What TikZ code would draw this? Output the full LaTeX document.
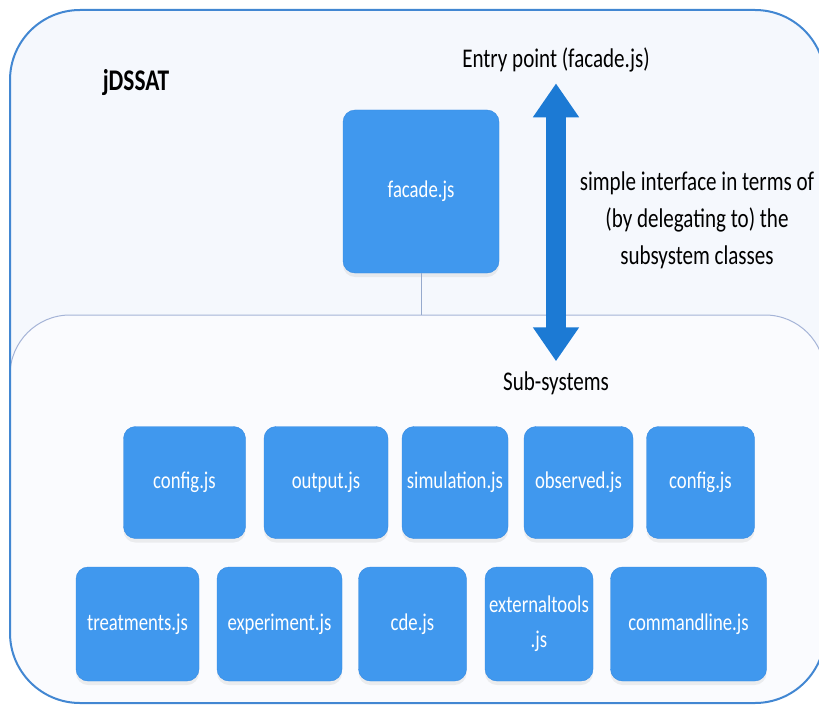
\documentclass[tikz,border=0pt]{standalone}
\usepackage{fontspec}
\setmainfont{Carlito}[FakeStretch=0.78]
\usetikzlibrary{arrows.meta,shadows}

\definecolor{boxfill}{RGB}{64,152,238}
\definecolor{boxline}{RGB}{52,138,226}
\definecolor{arrowblue}{RGB}{28,122,212}
\definecolor{framefill}{RGB}{245,248,253}
\definecolor{frameline}{RGB}{66,135,210}
\definecolor{subfill}{RGB}{250,251,254}
\definecolor{subline}{RGB}{165,180,215}
\definecolor{linkgray}{RGB}{150,170,205}

\newcommand\headfont{\fontsize{27}{37}\selectfont}
\newcommand\titlefont{\fontsize{30}{36}\selectfont\bfseries}
\newcommand\labelfont{\fontsize{24}{35}\selectfont}

\tikzset{
	jsbox/.style={draw=boxline, fill=boxfill, rounded corners=12pt, text=white,
		font=\labelfont, align=center, minimum height=112pt, inner sep=0pt,
		drop shadow={opacity=0.12, shadow xshift=0pt, shadow yshift=-4pt}},
	heading/.style={font=\headfont, inner sep=0pt, align=center},
	bigarrow/.style={draw=arrowblue, line width=20pt,
		{Triangle[width=44pt,length=34pt]}-{Triangle[width=44pt,length=34pt]}}
}

\begin{document}
\begin{tikzpicture}[x=1pt,y=-1pt]
	\useasboundingbox (0,0) rectangle (819,706);
	
	% outer frame and sub-system area
	\fill[framefill,rounded corners=70pt] (10,10) rectangle (825,703);
	\fill[subfill] (10,500) [rounded corners=60pt] -- (10,315) -- (825,315) -- (825,500)
		[rounded corners=70pt] -- (825,703) -- (10,703) -- cycle;
	\draw[subline,line width=1pt] (10,500) [rounded corners=60pt] -- (10,315) -- (825,315) -- (825,500);
	\draw[frameline,line width=2pt,rounded corners=70pt] (10,10) rectangle (825,703);
	
	\node[heading,font=\titlefont] (jdssat) at (136,83) {jDSSAT};
	\node[jsbox, minimum width=156pt, minimum height=163pt] (facade) at (421,191.5) {facade.js};
	\coordinate (subtop) at (421,315);
	\draw[linkgray,line width=0.8pt] (facade) -- (subtop);
	
	\node[heading] (entry) at (556,60) {Entry point (facade.js)};
	\node[heading] (subsys) at (556,383) {Sub-systems};
	\node[heading] (iface) at (697,220) {simple interface in terms of\\(by delegating to) the\\subsystem classes};
	\draw[bigarrow,shorten <=11pt,shorten >=10pt] (entry) -- (subsys);
	
	\foreach \nm/\cx/\w/\lbl in {configa/184.5/122/config.js,
		output/326/124/output.js,
		simulation/455/106/simulation.js,
		observed/578.5/109/observed.js,
		configb/700.5/108/config.js%
	}
	{
		\node[jsbox, minimum width=\w pt] (\nm) at (\cx,482.5) {\lbl};
	};
	
	\foreach \nm/\cx/\w/\lbl in {treatments/137.5/123/treatments.js,
		experiment/279.5/125/experiment.js,
		cde/412.5/108/cde.js,
		externaltools/539/108/{externaltools\\.js},
		commandline/688.5/156/commandline.js%
	}
	{
		\node[jsbox, minimum width=\w pt, minimum height=114pt] (\nm) at (\cx,624) {\lbl};
	};
	
\end{tikzpicture}
\end{document}
